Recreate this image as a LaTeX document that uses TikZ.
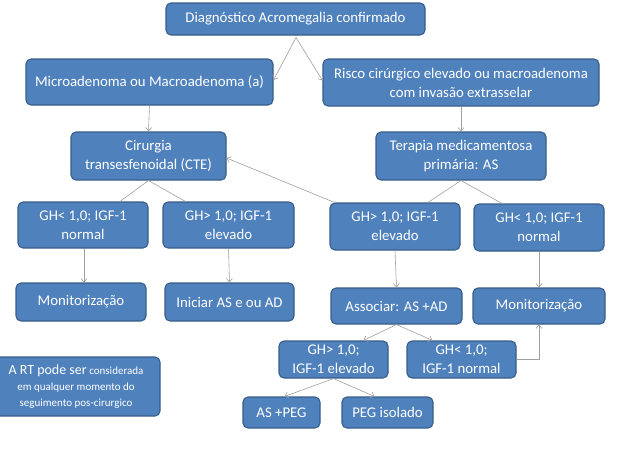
\documentclass[tikz,border=0pt]{standalone}
\usepackage{fontspec}
\setmainfont{Carlito}
\usetikzlibrary{arrows.meta,calc}
\definecolor{boxfill}{HTML}{4F81BD}
\definecolor{boxline}{HTML}{385D8A}
\definecolor{connc}{HTML}{A0A0A0}
\begin{document}
\begin{tikzpicture}[x=1pt,y=-1pt,
 bx/.style={draw=boxline, line width=1.1pt, fill=boxfill, rounded corners=5pt, text=white, align=center,
   font=\fontsize{14.8}{19}\selectfont, inner sep=0pt},
 conn/.style={draw=connc, line width=0.6pt},
 arr/.style={conn, -{Straight Barb[length=3.5pt,width=6pt]}}]
\useasboundingbox (0,0) rectangle (622,450);
\fill[white] (0,0) rectangle (622,450);
% nodes
\node[bx, minimum width=259, minimum height=32] (diag) at (295.5,19) {Diagnóstico Acromegalia confirmado};
\node[bx, minimum width=247, minimum height=46] (micro) at (149.5,82) {Microadenoma ou Macroadenoma (a)};
\node[bx, minimum width=276, minimum height=47] (risco) at (461,82.5) {Risco cirúrgico elevado ou macroadenoma\\com invasão extrasselar};
\node[bx, minimum width=155, minimum height=48] (cir) at (148.5,156) {Cirurgia\\transesfenoidal (CTE)};
\node[bx, minimum width=170, minimum height=48] (ter) at (461,156) {Terapia medicamentosa\\primária: AS};
\node[bx, minimum width=130, minimum height=46] (gl1) at (83,225) {GH< 1,0; IGF-1\\normal};
\node[bx, minimum width=131, minimum height=46] (gl2) at (228.5,225) {GH> 1,0; IGF-1\\elevado};
\node[bx, minimum width=130, minimum height=47] (gr1) at (395,226.5) {GH> 1,0; IGF-1\\elevado};
\node[bx, minimum width=130, minimum height=47] (gr2) at (539,227.5) {GH< 1,0; IGF-1\\normal};
\node[bx, minimum width=130, minimum height=38] (mon1) at (81,302) {Monitorização};
\node[bx, minimum width=129, minimum height=38] (ini) at (229.5,302) {Iniciar AS e ou AD};
\node[bx, minimum width=131, minimum height=36] (ass) at (396.5,306) {Associar: AS +AD};
\node[bx, minimum width=132, minimum height=36] (mon2) at (539,306) {Monitorização};
\node[bx, minimum width=109, minimum height=37] (g3) at (333.5,359.5) {GH> 1,0;\\IGF-1 elevado};
\node[bx, minimum width=109, minimum height=37] (g4) at (461.5,359.5) {GH< 1,0;\\IGF-1 normal};
\node[bx, minimum width=77, minimum height=31] (asp) at (281.5,412.5) {AS +PEG};
\node[bx, minimum width=91, minimum height=31] (peg) at (387.5,412.5) {PEG isolado};
\node[bx, minimum width=168, minimum height=59, font=\fontsize{11}{16}\selectfont] (rt) at (76,386.5)
  {{\fontsize{14}{16}\selectfont A RT pode ser} considerada\\em qualquer momento do\\seguimento pos-cirurgico};
% connectors
\coordinate (dapex) at ($(diag.south)+(0.5,2)$);
\draw[arr] (dapex) -- ($(micro.east)+(0,-2)$);
\draw[arr] (dapex) -- ($(risco.west)+(0,-2)$);
\draw[arr] (micro.south) -- (cir.north);
\draw[arr] (risco.south) -- (ter.north);
\draw[conn] (cir.south) -- ($(gl1.north)+(37,0)$);
\draw[conn] (cir.south) -- ($(gl2.north)+(-43,0)$);
\draw[conn] (ter.south) -- ($(gr1.north)+(33,0)$);
\draw[conn] (ter.south) -- ($(gr2.north)+(-37,0)$);
\draw[arr] ($(gr1.north west)+(5,0)$) -- ($(cir.east)+(0,2)$);
\draw[arr] ($(gl1.south)+(1,0)$) -- ($(mon1.north)+(3,0)$);
\draw[arr] (gl2.south) -- (ini.north);
\draw[arr] (gr1.south) -- (ass.north);
\draw[arr] (gr2.south) -- (mon2.north);
\draw[arr] (ass.south) -- ($(g3.north)+(30,0)$);
\draw[arr] (ass.south) -- ($(g4.north)+(-29,0)$);
\draw[arr] (g3.south) -- ($(asp.north)+(3,0)$);
\draw[arr] (g3.south) -- ($(peg.north)+(-13,0)$);
\draw[arr] (g4.east) -- (g4.east -| mon2.south) -- (mon2.south);
\end{tikzpicture}
\end{document}
